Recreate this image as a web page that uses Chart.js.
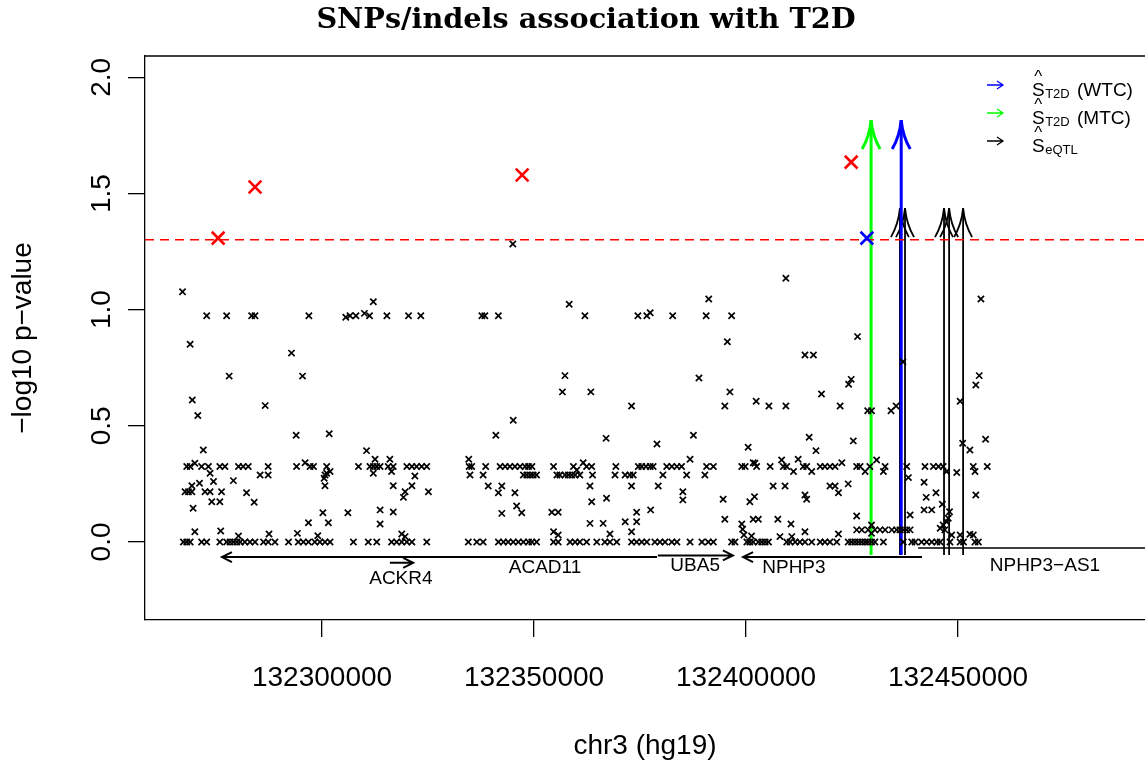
<!DOCTYPE html>
<html>
<head>
<meta charset="utf-8">
<title>SNPs/indels association with T2D</title>
<script src="https://cdn.jsdelivr.net/npm/chart.js@4.4.1/dist/chart.umd.min.js"></script>
<style>
  html, body { margin: 0; padding: 0; background: #fff; }
  canvas { display: block; }
</style>
</head>
<body>
<canvas id="assocChart" width="1145" height="765"></canvas>
<script>
// chr3 association plot around ACAD11 / NPHP3
// positions in kb (hg19), association as -log10 p

const xTicks = [132300000, 132350000, 132400000, 132450000];
const yTicks = [0, 0.5, 1, 1.5, 2];
const xRangeKb = [132258.25, 132494.1];
const yRange = [-0.336, 2.092];
const threshold = 1.30103; // p = 0.05

// variants with p = 1
const nullPos = [
  132267.3, 132268.1, 132268.9, 132271.6, 132272.8, 132275.9, 132277.5, 132278.3, 132279.1, 132279.9,
  132280.7, 132281.8, 132283.0, 132284.2, 132286.2, 132287.3, 132288.9, 132292.1, 132294.4, 132295.6,
  132296.8, 132298.3, 132299.5, 132300.7, 132301.9, 132307.4, 132310.9, 132312.9, 132316.4, 132317.6,
  132318.8, 132320.0, 132321.2, 132324.7,
  132334.5, 132336.5, 132338.0, 132341.6, 132342.8, 132343.9, 132345.1, 132346.3, 132347.5, 132348.7,
  132349.5, 132350.6, 132354.6, 132355.7, 132358.5, 132359.7, 132360.8, 132362.4, 132364.8, 132366.7,
  132367.9, 132369.5, 132373.0, 132374.2, 132375.4, 132376.6, 132378.5, 132379.7, 132380.9, 132382.5,
  132383.7, 132386.8, 132389.6, 132391.1, 132392.3, 132396.6, 132397.4, 132400.2, 132400.9, 132401.7,
  132402.9,
  132403.7, 132404.5, 132405.3, 132409.6, 132410.4, 132411.6, 132412.7, 132413.9, 132415.5, 132417.5,
  132418.6, 132419.8, 132421.4, 132424.1, 132424.9, 132425.7, 132426.5, 132427.3, 132428.1, 132428.8,
  132429.6, 132430.4, 132432.4, 132437.1, 132439.1, 132439.9, 132441.4, 132442.6, 132443.8, 132445.0,
  132445.8, 132448.1, 132450.5, 132451.3, 132454.0, 132454.8
];

// stronger signals (-log10 p > ~0.35)
const upperPos = [
  132267.1, 132272.8, 132277.5, 132283.4, 132284.2, 132296.9, 132305.6, 132306.6, 132308.0, 132310.0,
  132311.2, 132315.3, 132320.4, 132323.3, 132312.1, 132268.9, 132292.8, 132278.1, 132295.4, 132269.4,
  132270.7, 132286.6, 132293.9, 132301.7, 132272.0, 132310.5,
  132337.7, 132338.4, 132341.6, 132345.0, 132358.3, 132362.0, 132374.5, 132376.6, 132377.4, 132382.7,
  132391.2, 132390.6, 132396.6, 132395.6, 132357.3, 132356.7, 132363.4, 132388.9, 132396.2, 132395.0,
  132402.4, 132373.0, 132345.1, 132341.0, 132367.0, 132379.0, 132387.6, 132400.5, 132334.6,
  132409.4, 132426.3, 132413.9, 132415.9, 132455.4, 132455.0, 132454.2, 132424.8, 132424.2, 132437.0,
  132405.4, 132409.4, 132417.8, 132422.2, 132428.7, 132429.6, 132434.2, 132435.4, 132450.5, 132414.9,
  132416.5, 132425.3, 132451.1, 132452.8, 132456.5
];
const upperLogP = [
  1.077, 0.974, 0.974, 0.974, 0.974, 0.974, 0.967, 0.974, 0.974, 0.984,
  0.974, 0.974, 0.974, 0.974, 1.034, 0.851, 0.813, 0.714, 0.714, 0.611,
  0.544, 0.587, 0.459, 0.466, 0.396, 0.393,
  0.974, 0.974, 0.974, 1.283, 1.023, 0.974, 0.974, 0.974, 0.987, 0.974,
  1.046, 0.974, 0.974, 0.862, 0.716, 0.646, 0.646, 0.706, 0.646, 0.585,
  0.606, 0.585, 0.524, 0.459, 0.446, 0.422, 0.459, 0.408, 0.356,
  1.135, 0.884, 0.805, 0.805, 1.046, 0.716, 0.676, 0.700, 0.679, 0.776,
  0.585, 0.585, 0.637, 0.585, 0.565, 0.565, 0.565, 0.585, 0.606, 0.451,
  0.393, 0.435, 0.425, 0.396, 0.442
];

// the dense band around 0.3
const bandPos = [
  132268.1, 132268.9, 132270.0, 132271.6, 132273.2, 132275.9, 132277.1, 132280.3, 132281.4, 132282.6,
  132287.3, 132294.0, 132296.0, 132297.2, 132298.0, 132301.1, 132308.6, 132311.3, 132312.1, 132312.9,
  132313.7, 132315.6, 132316.8, 132320.0, 132321.2, 132322.3, 132323.5, 132324.7, 132312.5, 132316.0,
  132334.7, 132335.3, 132338.6, 132342.0, 132343.2, 132344.3, 132345.5, 132346.7, 132347.9, 132348.7,
  132349.5, 132354.6, 132359.3, 132361.6, 132362.4, 132363.6, 132369.3, 132374.6, 132375.4, 132376.4,
  132377.4, 132378.1, 132381.3, 132382.5, 132383.7, 132384.8, 132386.8, 132390.7, 132392.3, 132399.0,
  132401.7, 132402.5,
  132399.8, 132402.1, 132405.7, 132408.4, 132408.8, 132409.6, 132411.2, 132412.3, 132413.5, 132414.3,
  132415.5, 132417.5, 132418.6, 132419.8, 132421.0, 132422.6, 132426.1, 132426.9, 132428.1, 132429.2,
  132430.8, 132432.4, 132432.8, 132437.9, 132442.2, 132444.2, 132445.4, 132446.5, 132447.3, 132449.7,
  132453.6, 132454.0, 132456.9
];
const bandLogP = [
  0.325, 0.325, 0.339, 0.325, 0.325, 0.325, 0.325, 0.325, 0.325, 0.325,
  0.325, 0.325, 0.341, 0.325, 0.325, 0.325, 0.325, 0.325, 0.325, 0.325,
  0.325, 0.325, 0.325, 0.325, 0.325, 0.325, 0.325, 0.325, 0.356, 0.356,
  0.325, 0.325, 0.325, 0.325, 0.325, 0.325, 0.325, 0.325, 0.325, 0.325,
  0.325, 0.325, 0.325, 0.341, 0.325, 0.325, 0.325, 0.325, 0.325, 0.325,
  0.325, 0.325, 0.325, 0.325, 0.325, 0.325, 0.356, 0.325, 0.325, 0.325,
  0.341, 0.325,
  0.325, 0.339, 0.325, 0.353, 0.325, 0.325, 0.303, 0.356, 0.325, 0.325,
  0.303, 0.325, 0.325, 0.325, 0.325, 0.341, 0.325, 0.325, 0.303, 0.325,
  0.353, 0.303, 0.325, 0.325, 0.325, 0.325, 0.325, 0.325, 0.303, 0.299,
  0.325, 0.303, 0.325
];

// weak signals below the band
const lowPos = [
  132273.6, 132274.4, 132279.1, 132285.4, 132287.3, 132300.7, 132300.5, 132301.1, 132301.9, 132312.1,
  132316.4, 132321.9, 132269.3, 132271.1, 132267.7, 132268.5, 132269.3, 132272.4, 132273.6, 132276.3,
  132282.2, 132300.7, 132316.8, 132319.6, 132321.2, 132325.1, 132319.2, 132274.0, 132275.9, 132284.0,
  132269.6, 132300.2, 132306.1, 132313.7, 132316.8, 132296.8, 132301.5, 132313.7, 132270.0, 132276.1,
  132280.3, 132287.5, 132294.2, 132299.0, 132318.8, 132319.6,
  132334.9, 132338.0, 132347.5, 132348.3, 132349.1, 132349.8, 132350.6, 132355.4, 132356.1, 132357.3,
  132358.1, 132358.9, 132359.7, 132360.8, 132363.8, 132369.1, 132371.5, 132372.6, 132373.4, 132380.4,
  132386.0, 132390.3, 132360.1, 132339.2, 132342.4, 132341.6, 132345.5, 132363.2, 132363.6, 132367.1,
  132373.0, 132379.3, 132385.1, 132385.1, 132394.6, 132342.4, 132345.9, 132347.1, 132354.2, 132355.7,
  132374.2, 132377.5, 132395.0, 132363.2, 132366.3, 132371.5, 132374.2, 132399.0, 132354.6, 132355.7,
  132367.9, 132373.0, 132399.2, 132399.5,
  132438.3, 132442.0, 132401.7, 132402.9, 132400.9, 132402.0, 132406.4, 132409.2, 132413.9, 132414.3,
  132419.8, 132421.0, 132421.8, 132424.1, 132444.8, 132442.5, 132446.3, 132448.0, 132454.2, 132442.0,
  132443.8, 132407.5, 132410.6, 132426.1, 132438.7, 132401.3, 132413.9, 132421.8, 132408.0, 132410.8,
  132426.1, 132427.3, 132428.8, 132430.4, 132431.6, 132432.8, 132434.4, 132435.5, 132436.3, 132437.1,
  132437.9, 132438.7, 132429.6, 132429.6, 132445.8, 132446.5, 132447.3, 132447.7, 132446.9, 132448.5,
  132450.5, 132452.8, 132453.6
];
const lowLogP = [
  0.296, 0.260, 0.264, 0.288, 0.288, 0.288, 0.274, 0.296, 0.303, 0.296,
  0.303, 0.284, 0.242, 0.253, 0.216, 0.216, 0.216, 0.216, 0.216, 0.216,
  0.212, 0.242, 0.242, 0.216, 0.242, 0.216, 0.192, 0.173, 0.173, 0.171,
  0.145, 0.126, 0.126, 0.138, 0.129, 0.083, 0.083, 0.077, 0.044, 0.047,
  0.026, 0.034, 0.037, 0.027, 0.034, 0.023,
  0.288, 0.288, 0.288, 0.288, 0.288, 0.288, 0.288, 0.288, 0.288, 0.288,
  0.288, 0.288, 0.288, 0.288, 0.288, 0.288, 0.288, 0.288, 0.288, 0.288,
  0.288, 0.288, 0.310, 0.241, 0.241, 0.212, 0.212, 0.241, 0.173, 0.188,
  0.241, 0.241, 0.216, 0.181, 0.184, 0.123, 0.155, 0.126, 0.128, 0.128,
  0.128, 0.138, 0.098, 0.080, 0.080, 0.087, 0.087, 0.077, 0.044, 0.030,
  0.034, 0.044, 0.055, 0.030,
  0.277, 0.257, 0.098, 0.098, 0.173, 0.195, 0.241, 0.241, 0.202, 0.184,
  0.241, 0.241, 0.212, 0.250, 0.212, 0.192, 0.162, 0.130, 0.202, 0.138,
  0.138, 0.098, 0.077, 0.112, 0.116, 0.026, 0.044, 0.034, 0.023, 0.023,
  0.052, 0.052, 0.052, 0.052, 0.052, 0.052, 0.052, 0.052, 0.052, 0.052,
  0.052, 0.052, 0.073, 0.037, 0.059, 0.073, 0.087, 0.102, 0.052, 0.030,
  0.030, 0.033, 0.030
];

// highlighted variants
const hitPos = [132275.5, 132284.2, 132347.2, 132424.8, 132428.5];
const hitLogP = [1.308, 1.528, 1.580, 1.635, 1.308];
const hitColor = ['#ff0000', '#ff0000', '#ff0000', '#ff0000', '#0000ff'];

// causal-set arrows
const wtcArrowPos = [132436.6];
const mtcArrowPos = [132429.5];
const eqtlArrowPos = [132436.3, 132437.5, 132446.7, 132447.9, 132451.2];
const arrowBase = -0.056;
const t2dArrowTop = 1.816;
const eqtlArrowTop = 1.437;

// gene track
const geneNames = ['ACKR4', 'ACAD11', 'UBA5', 'NPHP3', 'NPHP3\u2212AS1'];
const geneStart = [132316.0, 132276.4, 132379.2, 132399.3, 132440.6];
const geneEnd = [132321.5, 132379.0, 132396.9, 132441.5, 132520.0];
const geneStrand = [1, -1, 1, -1, 1];
const geneTrackY = [-0.090, -0.065, -0.058, -0.065, -0.026];
const geneLabelPos = [132318.6, 132352.6, 132388.0, 132411.3, 132470.5];
const geneLabelY = [-0.159, -0.112, -0.103, -0.112, -0.103];

// legend
const legendColors = ['#0000ff', '#00ff00', '#000000'];
const legendSub = ['T2D', 'T2D', 'eQTL'];
const legendSuffix = [' (WTC)', ' (MTC)', ''];

const SANS = "'Liberation Sans', Arial, Helvetica, sans-serif";

function el(id) { return document.getElementById(id); }

function toPoints(pos, vals) {
  return pos.map((p, i) => ({ x: p * 1000, y: vals[i] }));
}

function vArrow(ctx, px, y0, y1, color, lw) {
  ctx.strokeStyle = color;
  ctx.lineWidth = lw;
  ctx.beginPath();
  ctx.moveTo(px, y0);
  ctx.lineTo(px, y1);
  ctx.stroke();
  ctx.beginPath();
  ctx.moveTo(px - 9, y1 + 29);
  ctx.quadraticCurveTo(px - 1.5, y1 + 16, px, y1);
  ctx.quadraticCurveTo(px + 1.5, y1 + 16, px + 9, y1 + 29);
  ctx.stroke();
}

function drawGenes(ctx, x, y) {
  ctx.strokeStyle = '#000';
  ctx.fillStyle = '#000';
  ctx.font = '19px ' + SANS;
  ctx.textAlign = 'center';
  ctx.textBaseline = 'middle';
  geneNames.forEach((name, i) => {
    const x0 = x.getPixelForValue(geneStart[i] * 1000);
    const x1 = x.getPixelForValue(geneEnd[i] * 1000);
    const ty = y.getPixelForValue(geneTrackY[i]);
    const dir = geneStrand[i];
    const tip = dir > 0 ? x1 : x0;
    ctx.lineWidth = i === 4 ? 1.5 : 2;
    ctx.beginPath();
    ctx.moveTo(x0, ty);
    ctx.lineTo(x1, ty);
    ctx.moveTo(tip - dir * 10, ty - 5);
    ctx.lineTo(tip, ty);
    ctx.lineTo(tip - dir * 10, ty + 5);
    ctx.stroke();
    ctx.fillText(name, x.getPixelForValue(geneLabelPos[i] * 1000), y.getPixelForValue(geneLabelY[i]));
  });
}

// genes, arrows and the 0.05 line go under the points
const annotate = {
  id: 'annotate',
  beforeDatasetsDraw(chart) {
    const { ctx, chartArea: a, scales: { x, y } } = chart;
    ctx.save();
    ctx.beginPath();
    ctx.rect(a.left, a.top, a.right - a.left, a.bottom - a.top);
    ctx.clip();
    drawGenes(ctx, x, y);
    const yb = y.getPixelForValue(arrowBase);
    eqtlArrowPos.forEach(p => vArrow(ctx, x.getPixelForValue(p * 1000), yb, y.getPixelForValue(eqtlArrowTop), '#000', 1.8));
    mtcArrowPos.forEach(p => vArrow(ctx, x.getPixelForValue(p * 1000), yb, y.getPixelForValue(t2dArrowTop), '#00ff00', 3));
    wtcArrowPos.forEach(p => vArrow(ctx, x.getPixelForValue(p * 1000), yb, y.getPixelForValue(t2dArrowTop), '#0000ff', 3));
    const ty = y.getPixelForValue(threshold);
    ctx.setLineDash([9, 6]);
    ctx.strokeStyle = '#ff0000';
    ctx.lineWidth = 1.5;
    ctx.beginPath();
    ctx.moveTo(a.left, ty);
    ctx.lineTo(a.right, ty);
    ctx.stroke();
    ctx.restore();
  }
};

// top edge of the box, rotated y labels, title and legend
const decorations = {
  id: 'decorations',
  afterDraw(chart) {
    const { ctx, chartArea: a, scales: { y } } = chart;
    ctx.save();
    ctx.strokeStyle = '#000';
    ctx.lineWidth = 1.3;
    ctx.beginPath();
    ctx.moveTo(a.left, a.top);
    ctx.lineTo(a.right, a.top);
    ctx.stroke();

    ctx.fillStyle = '#000';
    ctx.font = '28px ' + SANS;
    ctx.textAlign = 'center';
    ctx.textBaseline = 'alphabetic';
    y.ticks.forEach(t => {
      ctx.save();
      ctx.translate(a.left - 35, y.getPixelForValue(t.value));
      ctx.rotate(-Math.PI / 2);
      ctx.fillText(t.value.toFixed(1), 0, 0);
      ctx.restore();
    });

    ctx.font = "bold 28.7px 'DejaVu Serif', serif";
    ctx.textBaseline = 'middle';
    ctx.fillText('SNPs/indels association with T2D', 586, 21);

    ctx.textAlign = 'left';
    ctx.textBaseline = 'alphabetic';
    legendColors.forEach((c, i) => {
      const ay = 85 + i * 28;
      ctx.strokeStyle = c;
      ctx.lineWidth = 1.3;
      ctx.beginPath();
      ctx.moveTo(987, ay);
      ctx.lineTo(1003, ay);
      ctx.moveTo(997, ay - 4);
      ctx.lineTo(1003, ay);
      ctx.lineTo(997, ay + 4);
      ctx.stroke();

      let tx = 1032;
      const base = ay + 11;
      ctx.fillStyle = '#000';
      ctx.font = '19px ' + SANS;
      const sw = ctx.measureText('S').width;
      ctx.fillText('S', tx, base);
      ctx.font = '17px ' + SANS;
      ctx.textAlign = 'center';
      ctx.fillText('^', tx + sw / 2, ay - 3);
      ctx.textAlign = 'left';
      tx += sw + 0.5;
      ctx.font = '13px ' + SANS;
      ctx.fillText(legendSub[i], tx, base + 2);
      tx += ctx.measureText(legendSub[i]).width + 2;
      ctx.font = '19px ' + SANS;
      ctx.fillText(legendSuffix[i], tx, base);
    });
    ctx.restore();
  }
};

const axisFont = { family: SANS, size: 28 };

new Chart(el('assocChart').getContext('2d'), {
  type: 'scatter',
  data: {
    datasets: [
      {
        label: 'highlighted',
        data: toPoints(hitPos, hitLogP),
        pointStyle: 'crossRot',
        pointRadius: 9,
        pointBorderWidth: 2.6,
        pointBorderColor: hitColor,
        pointBackgroundColor: hitColor
      },
      {
        label: 'SNPs/indels',
        data: toPoints(nullPos, nullPos.map(() => 0))
          .concat(toPoints(upperPos, upperLogP))
          .concat(toPoints(bandPos, bandLogP))
          .concat(toPoints(lowPos, lowLogP)),
        pointStyle: 'crossRot',
        pointRadius: 4.4,
        pointBorderWidth: 1.7,
        pointBorderColor: '#000',
        pointBackgroundColor: '#000'
      }
    ]
  },
  options: {
    responsive: false,
    devicePixelRatio: 1,
    animation: false,
    events: [],
    layout: { autoPadding: false, padding: { top: 56, right: 0, bottom: 0, left: 0 } },
    plugins: { legend: { display: false }, tooltip: { enabled: false }, title: { display: false } },
    scales: {
      x: {
        type: 'linear',
        min: xRangeKb[0] * 1000,
        max: xRangeKb[1] * 1000,
        afterBuildTicks: s => { s.ticks = xTicks.map(v => ({ value: v })); },
        afterFit: s => { s.height = 145; s.paddingLeft = 0; s.paddingRight = 0; },
        grid: { drawOnChartArea: false, drawTicks: true, tickLength: 17, tickColor: '#000', color: '#000', lineWidth: 1.3 },
        border: { display: true, color: '#000', width: 1.3 },
        ticks: { color: '#000', font: axisFont, padding: 24, maxRotation: 0, autoSkip: false, callback: v => String(v) },
        title: { display: true, text: 'chr3 (hg19)', color: '#000', font: axisFont, padding: { top: 0, bottom: 2 } }
      },
      y: {
        type: 'linear',
        min: yRange[0],
        max: yRange[1],
        afterBuildTicks: s => { s.ticks = yTicks.map(v => ({ value: v })); },
        afterFit: s => { s.width = 145; s.paddingTop = 0; s.paddingBottom = 0; },
        grid: { drawOnChartArea: false, drawTicks: true, tickLength: 17, tickColor: '#000', color: '#000', lineWidth: 1.3 },
        border: { display: true, color: '#000', width: 1.3 },
        ticks: { display: false },
        title: { display: true, text: '\u2212log10 p\u2212value', color: '#000', font: axisFont, padding: { top: 6, bottom: 0 } }
      }
    }
  },
  plugins: [annotate, decorations]
});
</script>
</body>
</html>
